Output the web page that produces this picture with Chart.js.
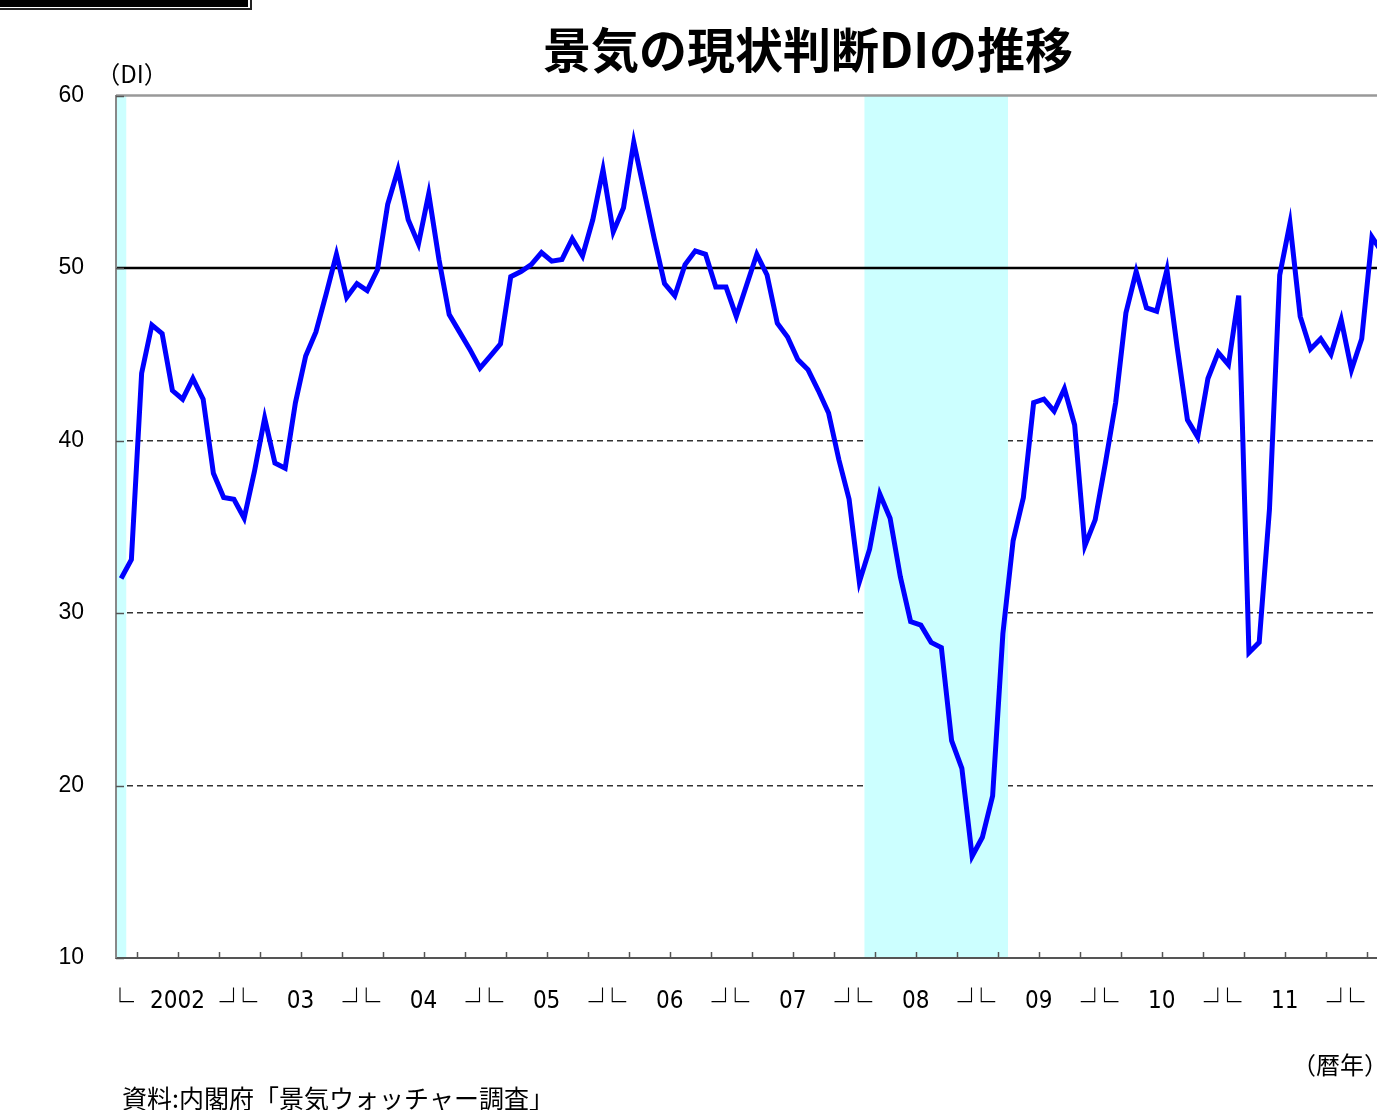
<!DOCTYPE html>
<html lang="ja">
<head>
<meta charset="utf-8">
<title>景気の現状判断DIの推移</title>
<script src="https://cdn.jsdelivr.net/npm/chart.js@4.4.1/dist/chart.umd.min.js"></script>
<style>
  html, body { margin: 0; padding: 0; background: #fff; overflow: hidden; }
  #wrap { position: relative; width: 1377px; height: 1110px; overflow: hidden; }
  #chart { position: absolute; left: 0; top: 0; }
  .tag-outer { position: absolute; left: -10px; top: -10px; width: 262px; height: 20px; box-sizing: border-box; border: 2px solid #222; }
  .tag-inner { position: absolute; left: 0; top: 0; width: 248px; height: 7px; background: #000; }
</style>
</head>
<body>
<div id="wrap">
  <canvas id="chart" width="1616" height="1110"></canvas>
  <div class="tag-outer"></div>
  <div class="tag-inner"></div>
</div>
<script>
// monthly series, Jan 2002 onward
const startYear = 2002;
const currentDI = [
  32.0, 33.1, 43.9, 46.7, 46.2, 42.9, 42.4, 43.6, 42.4, 38.1, 36.7, 36.6,
  35.5, 38.2, 41.3, 38.7, 38.4, 42.2, 44.9, 46.3, 48.5, 50.8, 48.3, 49.1,
  48.7, 49.9, 53.7, 55.7, 52.8, 51.4, 54.3, 50.5, 47.3, 46.3, 45.3, 44.2,
  44.9, 45.6, 49.5, 49.8, 50.2, 50.9, 50.4, 50.5, 51.7, 50.7, 52.8, 55.7,
  52.1, 53.5, 57.3, 54.5, 51.7, 49.1, 48.4, 50.2, 51.0, 50.8, 48.9, 48.9,
  47.2, 49.0, 50.8, 49.6, 46.8, 46.0, 44.7, 44.1, 42.9, 41.6, 38.9, 36.6,
  31.8, 33.7, 36.9, 35.5, 32.1, 29.5, 29.3, 28.3, 28.0, 22.6, 21.0, 15.9,
  17.0, 19.4, 28.8, 34.2, 36.7, 42.2, 42.4, 41.7, 43.0, 40.9, 33.9, 35.4,
  38.7, 42.2, 47.4, 49.8, 47.7, 47.5, 49.9, 45.4, 41.2, 40.2, 43.6, 45.1,
  44.4, 48.4, 27.7, 28.3, 36.0, 49.6, 52.6, 47.2, 45.3, 45.9, 45.0, 47.0,
  44.1, 45.9, 51.8, 50.9
];
const yearLabels = ['2002', '03', '04', '05', '06', '07', '08', '09', '10', '11', '12'];
// shaded periods, in months from Jan 2002 (start, end)
const recessionBands = [[0, 1], [73, 87]];
const yTickValues = [10, 20, 30, 40, 50, 60];
const dashedLevels = [20, 30, 40];
const baseLevel = 50;
const axisMonths = 146.3;

const points = currentDI.map((v, i) => ({ x: i + 0.5, y: v }));

const xTicks = [];
yearLabels.forEach((label, k) => {
  xTicks.push({ value: 12 * k + 0.4, text: '└', kind: 'mark' });
  xTicks.push({ value: 12 * k + 6, text: label, kind: 'year' });
  xTicks.push({ value: 12 * k + 11.45, text: '┘', kind: 'mark' });
});
const tickMarkMonths = [];
for (let m = 2; m < axisMonths; m += 4) tickMarkMonths.push(m);

const CJK = "'Noto Sans CJK JP', 'Noto Sans', sans-serif";

const overlay = {
  id: 'overlay',
  beforeDatasetsDraw(chart) {
    const { ctx, chartArea: a, scales: { x, y } } = chart;
    ctx.save();
    ctx.fillStyle = '#ccffff';
    recessionBands.forEach(([s, e]) => {
      const x1 = x.getPixelForValue(s);
      const x2 = x.getPixelForValue(e);
      ctx.fillRect(x1, a.top, x2 - x1, a.bottom - a.top);
    });
    const hline = (val, color, width) => {
      const py = y.getPixelForValue(val);
      ctx.strokeStyle = color;
      ctx.lineWidth = width;
      ctx.beginPath();
      ctx.moveTo(a.left, py);
      ctx.lineTo(a.right, py);
      ctx.stroke();
    };
    hline(60, '#999', 2.5);
    hline(baseLevel, '#000', 2.5);
    ctx.restore();
  },
  afterDraw(chart) {
    const { ctx, chartArea: a, scales: { x, y } } = chart;
    ctx.save();
    ctx.strokeStyle = '#555';
    ctx.lineWidth = 1.5;
    tickMarkMonths.forEach(m => {
      const px = Math.round(x.getPixelForValue(m)) + 0.5;
      ctx.beginPath();
      ctx.moveTo(px, a.bottom);
      ctx.lineTo(px, a.bottom - 6);
      ctx.stroke();
    });
    yTickValues.forEach(v => {
      const py = Math.round(y.getPixelForValue(v)) + 0.5;
      ctx.beginPath();
      ctx.moveTo(a.left, py);
      ctx.lineTo(a.left + 8, py);
      ctx.stroke();
    });
    ctx.fillStyle = '#000';
    ctx.textBaseline = 'middle';
    ctx.font = '24px ' + CJK;
    ctx.textAlign = 'center';
    ctx.fillText('（DI）', 132, 74);
    ctx.fillText('（暦年）', 1340, 1065);
    ctx.textAlign = 'left';
    ctx.font = '25px ' + CJK;
    ctx.fillText('資料:内閣府「景気ウォッチャー調査」', 122, 1098);
    ctx.restore();
  }
};

new Chart(document.getElementById('chart').getContext('2d'), {
  type: 'line',
  data: {
    datasets: [{
      label: '現状判断DI',
      data: points,
      borderColor: '#0000ff',
      borderWidth: 5,
      borderJoinStyle: 'miter',
      pointRadius: 0,
      tension: 0,
      fill: false,
    }],
  },
  options: {
    responsive: false,
    animation: false,
    layout: { padding: { left: 0, right: 0, top: 0, bottom: 0 } },
    plugins: {
      legend: { display: false },
      tooltip: { enabled: false },
      title: {
        display: true,
        text: '景気の現状判断DIの推移',
        color: '#000',
        font: { family: CJK, size: 48, weight: 'bold', lineHeight: 1.2 },
        padding: { top: 21, bottom: 17 },
      },
    },
    scales: {
      x: {
        type: 'linear',
        min: 0,
        max: axisMonths,
        grid: { display: false },
        border: { display: true, color: '#555', width: 2, z: 1 },
        afterBuildTicks: (scale) => { scale.ticks = xTicks.map(t => ({ ...t })); },
        afterFit: (scale) => { scale.height = 152; },
        ticks: {
          autoSkip: false,
          maxRotation: 0,
          padding: 21,
          color: '#000',
          callback: (value, index, ticks) => ticks[index].text,
          font: (ctx) => ctx.tick && ctx.tick.kind === 'year'
            ? { family: "'Liberation Sans Narrow', 'DejaVu Sans Condensed', 'Liberation Sans', sans-serif", size: 24, lineHeight: '30px' }
            : { family: CJK, size: 28, lineHeight: '30px' },
        },
      },
      y: {
        min: 10,
        max: 60,
        afterBuildTicks: (scale) => { scale.ticks = yTickValues.map(v => ({ value: v })); },
        afterFit: (scale) => { scale.width = 116; },
        grid: {
          drawTicks: false,
          lineWidth: 1.4,
          color: (ctx) => ctx.tick && dashedLevels.includes(ctx.tick.value) ? '#333' : 'rgba(0,0,0,0)',
        },
        border: { display: true, color: '#888', width: 2, dash: [6, 4], z: 1 },
        ticks: {
          padding: 32,
          color: '#000',
          font: { family: "'Liberation Sans', Arial, sans-serif", size: 23 },
        },
      },
    },
  },
  plugins: [overlay],
});
</script>
</body>
</html>
